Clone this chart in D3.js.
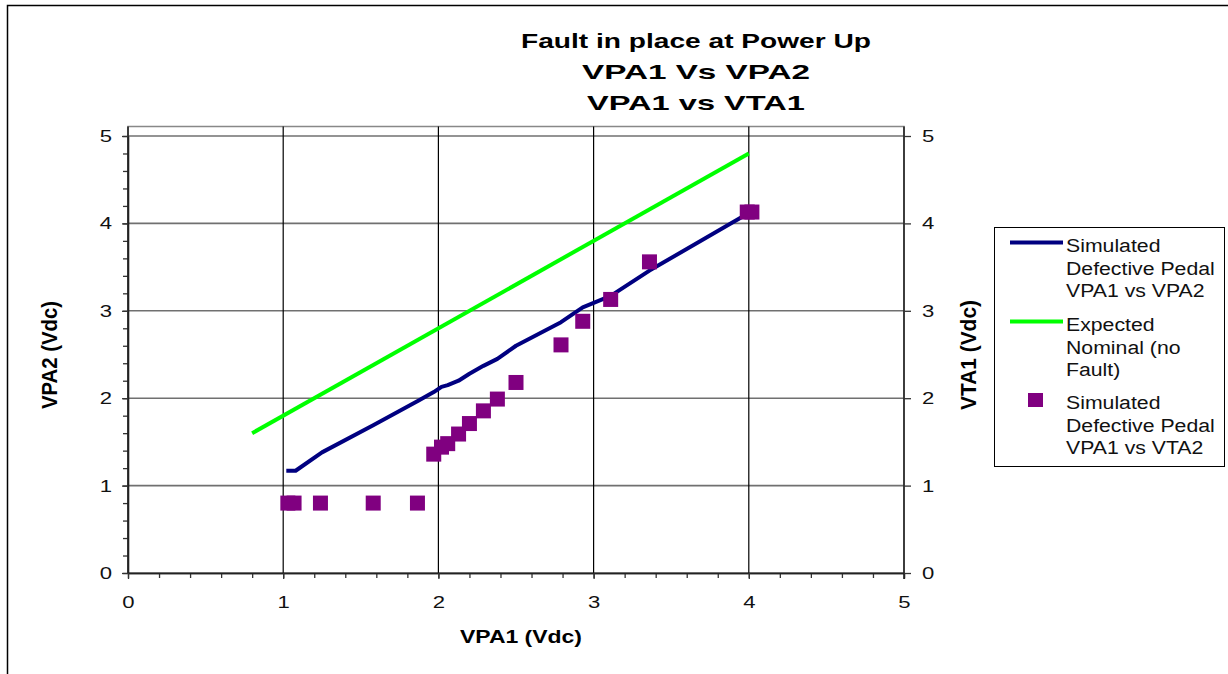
<!DOCTYPE html>
<html>
<head>
<meta charset="utf-8">
<script src="https://cdn.jsdelivr.net/npm/d3@7"></script>
<style>
  html, body { margin: 0; padding: 0; background: #fff; }
  svg { display: block; font-family: "Liberation Sans", Arial, sans-serif; }
</style>
</head>
<body>
<svg id="chart" width="1228" height="674"></svg>
<script>
// Chart text
const titleLines = ["Fault in place at Power Up", "VPA1 Vs VPA2", "VPA1 vs VTA1"];
const xTitle = "VPA1 (Vdc)";
const yTitle = "VPA2 (Vdc)";
const y2Title = "VTA1 (Vdc)";
const seriesNames = [
  ["Simulated", "Defective Pedal", "VPA1 vs VPA2"],
  ["Expected", "Nominal (no", "Fault)"],
  ["Simulated", "Defective Pedal", "VPA1 vs VTA2"]
];

// Axis ticks
const majorTicks = [0, 1, 2, 3, 4, 5];
const minorTicks = d3.range(0, 26).map(i => i / 5);

// Simulated defective pedal: VPA1 vs VPA2 (line, left axis)
const defVpa1 = [1.02, 1.08, 1.25, 1.58, 1.87, 1.97, 2.02, 2.06, 2.13, 2.20, 2.29, 2.38, 2.50, 2.79, 2.93, 3.11, 3.36, 4.00];
const defVpa2 = [1.17, 1.17, 1.38, 1.69, 1.97, 2.07, 2.13, 2.15, 2.20, 2.28, 2.37, 2.45, 2.60, 2.87, 3.04, 3.17, 3.46, 4.12];

// Expected nominal (no fault)
const nomVpa1 = [0.8, 4.0];
const nomVpa2 = [1.6, 4.8];

// Simulated defective pedal: VPA1 vs VTA (markers, right axis)
const vtaVpa1 = [1.03, 1.07, 1.24, 1.58, 1.865, 1.97, 2.02, 2.06, 2.13, 2.20, 2.29, 2.38, 2.50, 2.79, 2.93, 3.11, 3.36, 3.99, 4.02];
const vtaVals = [0.80, 0.80, 0.80, 0.80, 0.80, 1.36, 1.44, 1.48, 1.59, 1.71, 1.855, 1.99, 2.18, 2.61, 2.88, 3.13, 3.56, 4.13, 4.13];

const colors = { defective: "#000080", nominal: "#00ff00", vta: "#800080" };

// Text is drawn slightly wide, like the original Excel export
function widen(sel, factor) {
  sel.each(function () {
    const w = this.getComputedTextLength();
    d3.select(this).attr("textLength", w * factor).attr("lengthAdjust", "spacingAndGlyphs");
  });
}
function fitWidth(sel, width) {
  sel.attr("textLength", width).attr("lengthAdjust", "spacingAndGlyphs");
}

const svg = d3.select("#chart");

// Outer frame
svg.append("rect")
  .attr("x", 7.5).attr("y", 5.5).attr("width", 1300).attr("height", 800)
  .attr("fill", "none").attr("stroke", "#000").attr("stroke-width", 1.5);

const x = d3.scaleLinear().domain([0, 5]).range([128, 904]);
const y = d3.scaleLinear().domain([0, 5]).range([573, 136]);
const y2 = d3.scaleLinear().domain([0, 5]).range([573, 136]);

const plotTop = 126.5;

// Plot area frame
svg.append("rect")
  .attr("x", x(0)).attr("y", plotTop)
  .attr("width", x(5) - x(0)).attr("height", y(0) - plotTop)
  .attr("fill", "none").attr("stroke", "#888").attr("stroke-width", 1.5);

// Horizontal gridlines
svg.append("g").selectAll("line")
  .data(majorTicks.filter(d => d > 0))
  .join("line")
  .attr("x1", x(0)).attr("x2", x(5))
  .attr("y1", d => y(d)).attr("y2", d => y(d))
  .attr("stroke", "#707070").attr("stroke-width", 1.6);

// Vertical gridlines
svg.append("g").selectAll("line")
  .data(majorTicks.filter(d => d > 0 && d < 5))
  .join("line")
  .attr("x1", d => x(d)).attr("x2", d => x(d))
  .attr("y1", plotTop).attr("y2", y(0))
  .attr("stroke", "#000").attr("stroke-width", 1.2);

function styleAxis(g) {
  g.selectAll("path.domain").attr("stroke", "#222").attr("stroke-width", 1.6);
  g.selectAll(".tick line").attr("stroke", "#333").attr("stroke-width", 1.3);
  g.selectAll(".tick text").attr("font-size", 17).attr("fill", "#111")
    .attr("font-family", "'Liberation Sans', Arial, sans-serif")
    .call(widen, 1.3);
}

// Left axis: minor then major ticks
svg.append("g").attr("transform", `translate(${x(0)},0)`)
  .call(d3.axisLeft(y).tickValues(minorTicks).tickSize(5).tickFormat("").tickSizeOuter(0))
  .call(styleAxis);
svg.append("g").attr("transform", `translate(${x(0)},0)`)
  .call(d3.axisLeft(y).tickValues(majorTicks).tickSize(6).tickPadding(10).tickFormat(d3.format("d")).tickSizeOuter(0))
  .call(styleAxis)
  .call(g => g.select("path.domain").attr("d", `M0,${plotTop}V${y(0)}`));

// Bottom axis
svg.append("g").attr("transform", `translate(0,${y(0)})`)
  .call(d3.axisBottom(x).tickValues(minorTicks).tickSize(5).tickFormat("").tickSizeOuter(0))
  .call(styleAxis);
svg.append("g").attr("transform", `translate(0,${y(0)})`)
  .call(d3.axisBottom(x).tickValues(majorTicks).tickSize(6).tickPadding(17).tickFormat(d3.format("d")).tickSizeOuter(0))
  .call(styleAxis);

// Right axis (VTA1)
svg.append("g").attr("transform", `translate(${x(5)},0)`)
  .call(d3.axisRight(y2).tickValues(majorTicks).tickSize(7).tickPadding(11).tickFormat(d3.format("d")).tickSizeOuter(0))
  .call(styleAxis)
  .call(g => g.select("path.domain").attr("d", `M0,${plotTop}V${y(0) + 6}`));

// Nominal line
const line = d3.line().x(d => x(d[0])).y(d => y(d[1]));
svg.append("path")
  .datum(d3.zip(nomVpa1, nomVpa2))
  .attr("d", line)
  .attr("fill", "none").attr("stroke", colors.nominal).attr("stroke-width", 4);

// Defective pedal line
svg.append("path")
  .datum(d3.zip(defVpa1, defVpa2))
  .attr("d", line)
  .attr("fill", "none").attr("stroke", colors.defective).attr("stroke-width", 4)
  .attr("stroke-linejoin", "round");

// VTA markers
const sq = 15;
svg.append("g").selectAll("rect")
  .data(d3.zip(vtaVpa1, vtaVals))
  .join("rect")
  .attr("x", d => x(d[0]) - sq / 2).attr("y", d => y2(d[1]) - sq / 2)
  .attr("width", sq).attr("height", sq)
  .attr("fill", colors.vta);

// Title block
const titleWidths = [350, 228, 218];
titleLines.forEach((t, i) => {
  svg.append("text")
    .attr("x", 696).attr("y", 48 + i * 31)
    .attr("text-anchor", "middle").attr("font-weight", "bold").attr("font-size", 21).attr("fill", "#000")
    .text(t)
    .call(fitWidth, titleWidths[i]);
});

svg.append("text")
  .attr("x", 521).attr("y", 643)
  .attr("text-anchor", "middle").attr("font-weight", "bold").attr("font-size", 19)
  .text(xTitle)
  .call(fitWidth, 122);

svg.append("text")
  .attr("transform", `translate(57,355) scale(1.15,1) rotate(-90)`)
  .attr("text-anchor", "middle").attr("font-weight", "bold").attr("font-size", 19)
  .text(yTitle)
  .call(fitWidth, 108);

svg.append("text")
  .attr("transform", `translate(976,355) scale(1.15,1) rotate(-90)`)
  .attr("text-anchor", "middle").attr("font-weight", "bold").attr("font-size", 19)
  .text(y2Title)
  .call(fitWidth, 110);

// Legend
const legend = svg.append("g");
legend.append("rect")
  .attr("x", 994.5).attr("y", 227.5).attr("width", 230).attr("height", 239)
  .attr("fill", "#fff").attr("stroke", "#000").attr("stroke-width", 1);

const entryBaseline = [252, 331, 409];
const lineH = 22.7;
seriesNames.forEach((lines, i) => {
  const cy = entryBaseline[i] - 9.5;
  if (i < 2) {
    legend.append("line")
      .attr("x1", 1010).attr("x2", 1063).attr("y1", cy).attr("y2", cy)
      .attr("stroke", i === 0 ? colors.defective : colors.nominal).attr("stroke-width", 4);
  } else {
    legend.append("rect")
      .attr("x", 1028).attr("y", cy - 6.5).attr("width", 15).attr("height", 14)
      .attr("fill", colors.vta);
  }
  lines.forEach((t, j) => {
    legend.append("text")
      .attr("x", 1066).attr("y", entryBaseline[i] + j * lineH)
      .attr("font-size", 18).attr("fill", "#111")
      .text(t)
      .call(widen, 1.18);
  });
});
</script>
</body>
</html>
